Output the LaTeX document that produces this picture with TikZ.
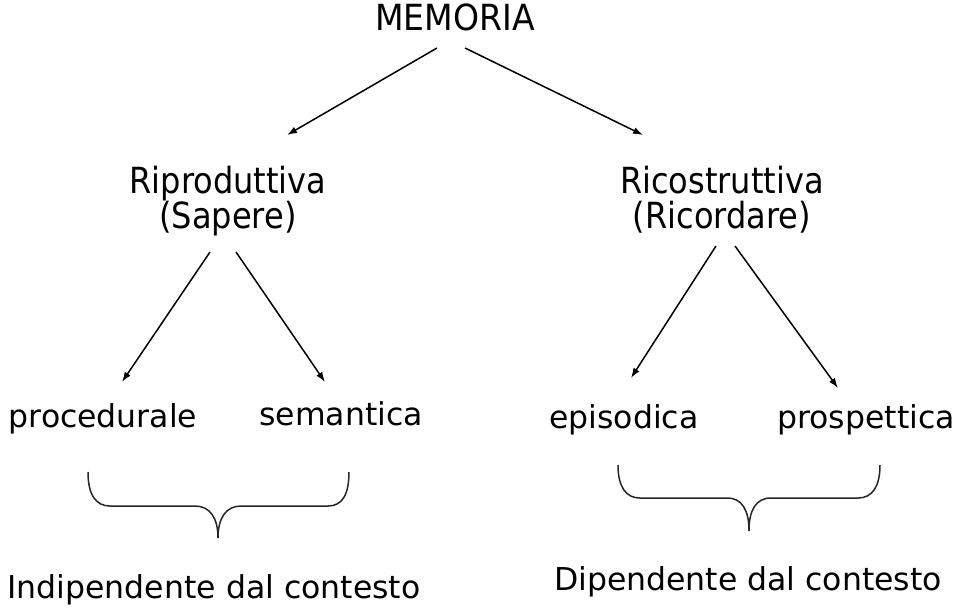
\documentclass[tikz,border=0pt]{standalone}
\usepackage{fontspec}
\setmainfont{DejaVu Sans}
\usetikzlibrary{arrows.meta,calc}
\tikzset{
  lbl/.style={inner sep=0pt, anchor=base},
  arr/.style={line width=1.5pt, -{Latex[length=10pt,width=7pt]}},
  brace/.style={line width=1.5pt, draw=black!85},
}
\newcommand{\narrow}[1]{\scalebox{0.89}[1]{#1}}
\begin{document}
\begin{tikzpicture}[x=1pt,y=-1pt]
\useasboundingbox (0,0) rectangle (959,611);
\fontsize{31.5}{38}\selectfont
% nodes
\node[lbl] (mem) at (455,30) {\fontsize{36}{40}\selectfont\scalebox{0.92}[1]{MEMORIA}};
\node[lbl] (r1a) at (228,193) {\fontsize{36}{40}\selectfont\narrow{Riproduttiva}};
\node[lbl] (r1b) at (228,228) {\fontsize{36}{40}\selectfont\narrow{(Sapere)}};
\node[lbl] (r2a) at (722,193) {\fontsize{36}{40}\selectfont\narrow{Ricostruttiva}};
\node[lbl] (r2b) at (722,228) {\fontsize{36}{40}\selectfont\narrow{(Ricordare)}};
\node[lbl] (proc) at (103,427) {procedurale};
\node[lbl] (sem) at (341,425) {semantica};
\node[lbl] (epi) at (624,428) {episodica};
\node[lbl] (pros) at (866,428) {prospettica};
\node[lbl] (ind) at (214,598) {Indipendente dal contesto};
\node[lbl] (dip) at (748,590) {Dipendente dal contesto};
% arrows
\draw[arr] ($(mem.base)+(-18,18)$) -- ($(r1a.base)+(59,-58)$);
\draw[arr] ($(mem.base)+(10,18)$) -- ($(r2a.base)+(-79,-58)$);
\draw[arr] ($(r1b.base)+(-18,24)$) -- ($(proc.base)+(19,-45)$);
\draw[arr] ($(r1b.base)+(8,24)$) -- ($(sem.base)+(-16,-43)$);
\draw[arr] ($(r2b.base)+(-6,18)$) -- ($(epi.base)+(7,-50)$);
\draw[arr] ($(r2b.base)+(13,18)$) -- ($(pros.base)+(-28,-40)$);
% braces
\draw[brace] (88,472) .. controls (88,495) and (96,506) .. (110,506)
  -- (195,506) .. controls (210,506) and (218,518) .. (218,538)
  .. controls (218,518) and (226,506) .. (241,506)
  -- (328,506) .. controls (342,506) and (349,495) .. (349,472);
\draw[brace] (618,465) .. controls (618,487) and (626,498) .. (640,498)
  -- (727,498) .. controls (742,498) and (749,510) .. (749,531)
  .. controls (749,510) and (756,498) .. (771,498)
  -- (858,498) .. controls (872,498) and (880,487) .. (880,465);
\end{tikzpicture}
\end{document}
